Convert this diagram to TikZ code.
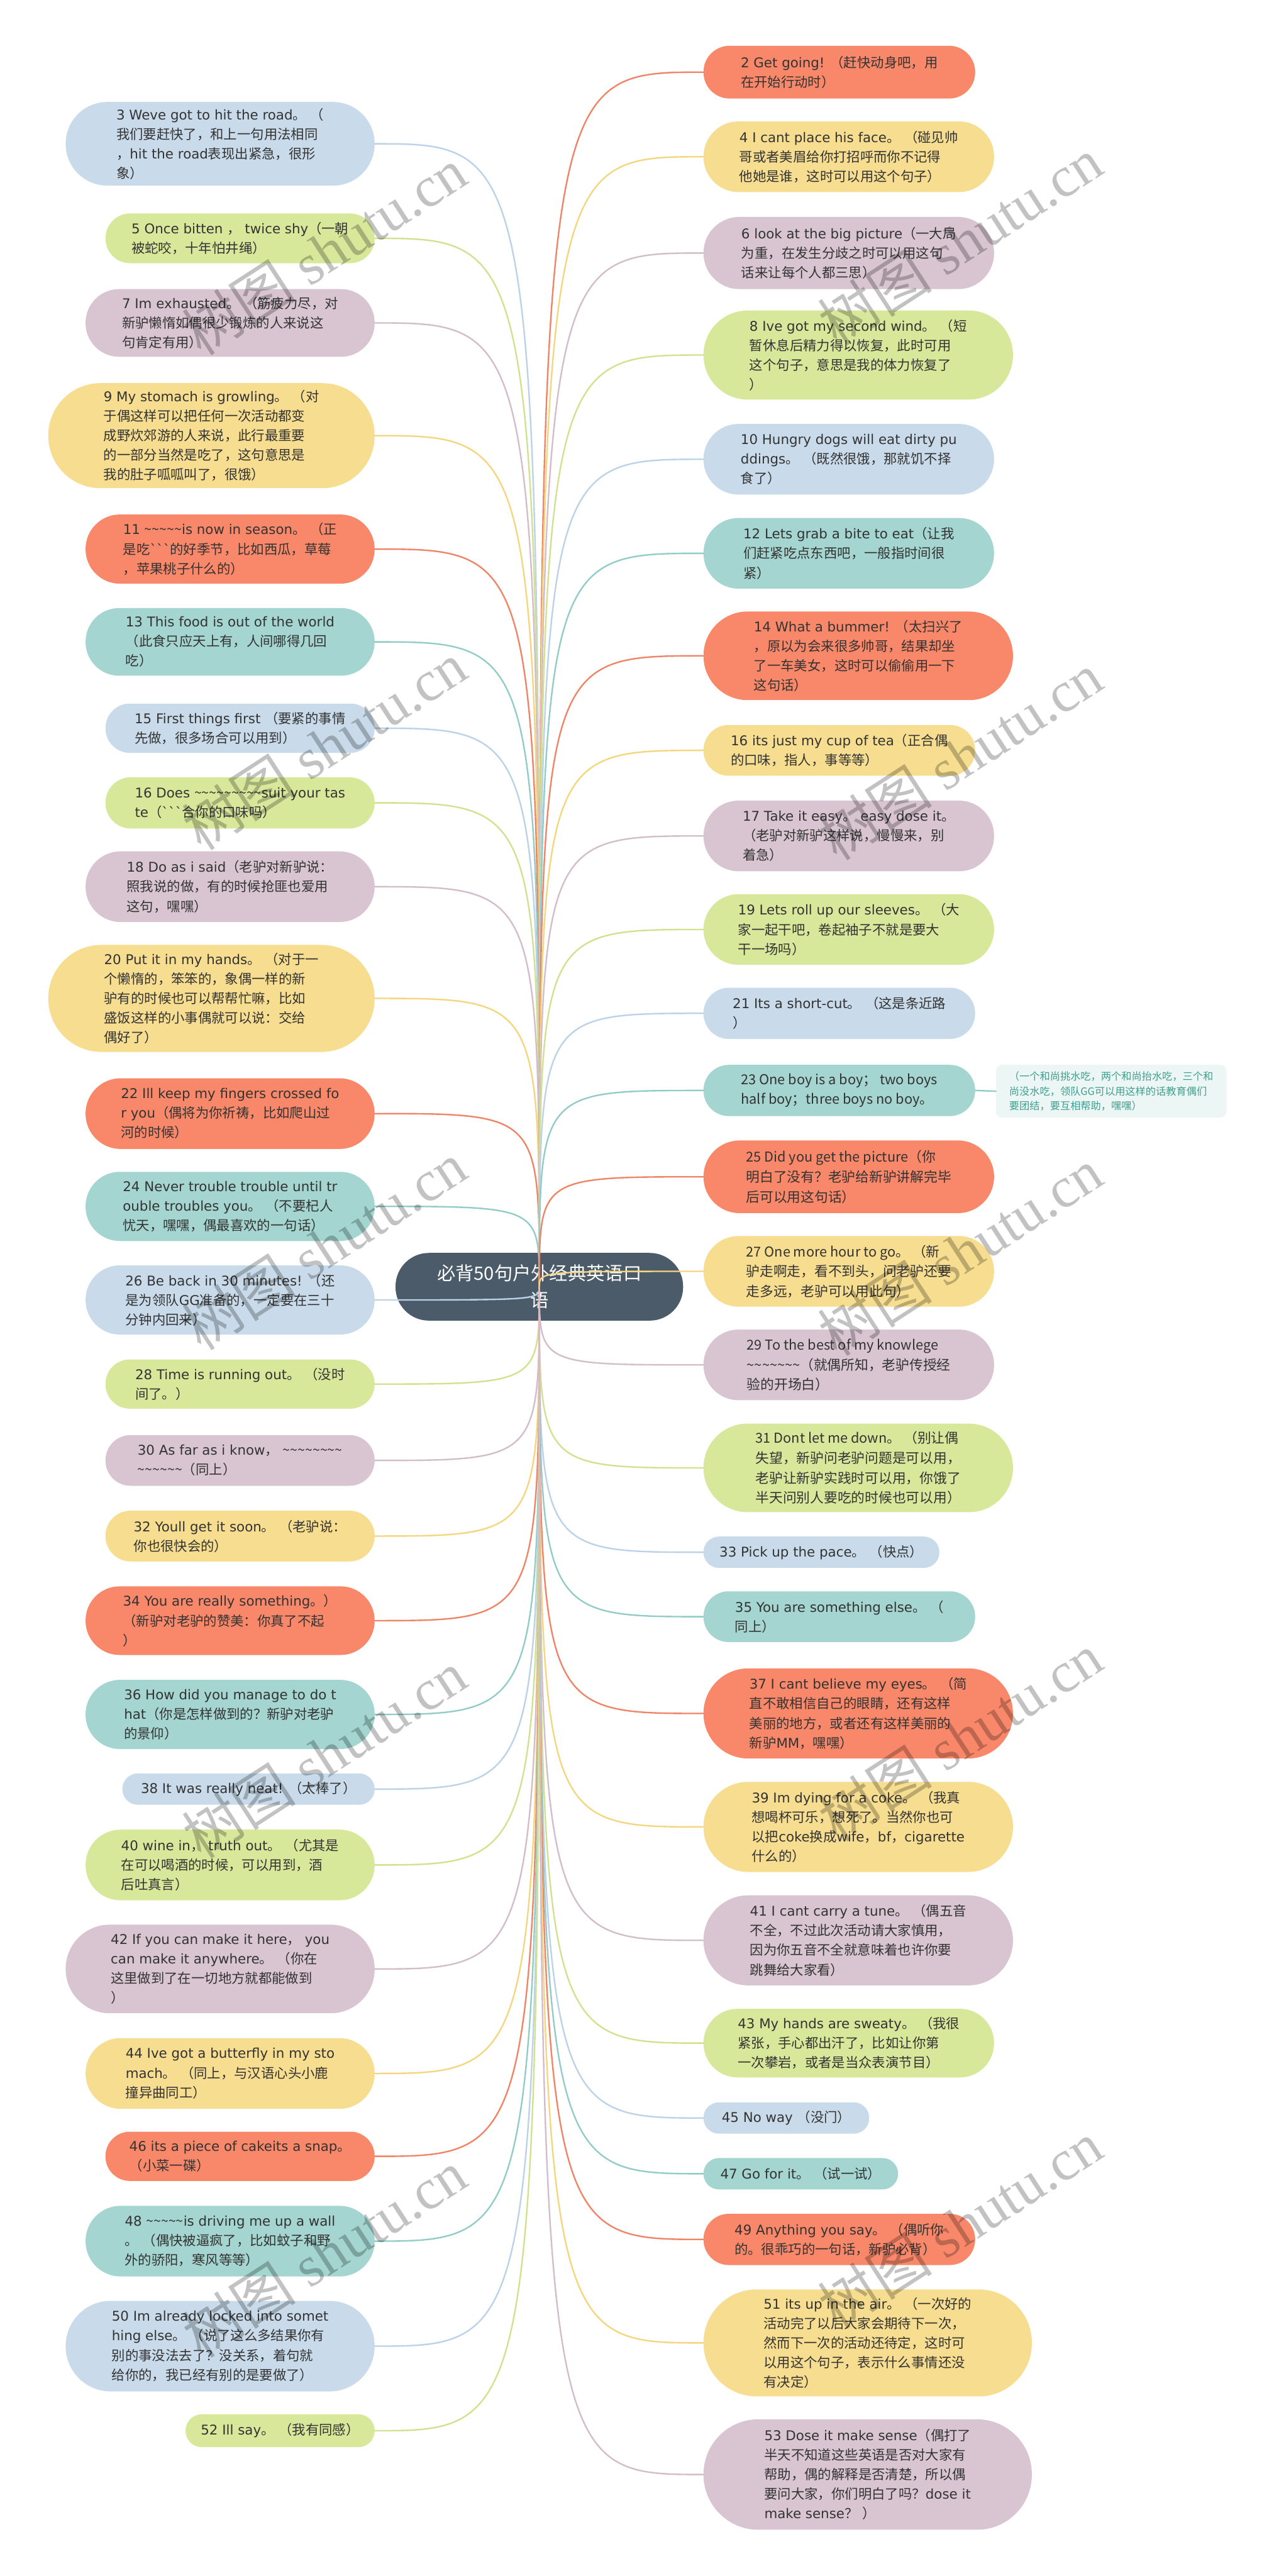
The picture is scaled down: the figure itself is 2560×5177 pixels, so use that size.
\documentclass[tikz,border=0pt]{standalone}
\usepackage{fontspec}
\setmainfont{DejaVu Sans}
\newfontfamily\latf{DejaVu Sans}
\newfontfamily\cjkf{Noto Sans CJK SC}
\newfontfamily\wmserif{Liberation Serif}
\XeTeXinterchartokenstate=1
\chardef\CJKcls=17
\newcount\ccnt
\newcommand\setcls[2]{\ccnt=#1\relax\loop\XeTeXcharclass\ccnt=\CJKcls\relax\ifnum\ccnt<#2\relax\advance\ccnt by 1\relax\repeat}
\setcls{"3000}{"303F}
\setcls{"4E00}{"9FFF}
\setcls{"FF00}{"FFEF}
\XeTeXinterchartoks 0 \CJKcls = {\cjkf}
\XeTeXinterchartoks 4095 \CJKcls = {\cjkf}
\XeTeXinterchartoks \CJKcls 0 = {\latf}
\XeTeXinterchartoks \CJKcls 4095 = {\latf}
\newcount\wc
\newcommand\W[1]{{\cjkf\wc=#1\relax\loop\ifnum\wc>0 \char126\relax\advance\wc by -1\relax\repeat}}
\definecolor{cor}{HTML}{F9886A}
\definecolor{cye}{HTML}{F7DD8F}
\definecolor{cma}{HTML}{D8C5D1}
\definecolor{cgr}{HTML}{D8E89B}
\definecolor{cbl}{HTML}{C9DBEB}
\definecolor{cte}{HTML}{A4D5D0}
\definecolor{lor}{HTML}{F08466}
\definecolor{lye}{HTML}{F3D67E}
\definecolor{lma}{HTML}{D3BDCB}
\definecolor{lgr}{HTML}{D0E28E}
\definecolor{lbl}{HTML}{BCD2E8}
\definecolor{lte}{HTML}{92CCC6}
\definecolor{txt}{HTML}{333333}
\definecolor{ctrfill}{HTML}{4B5B6A}
\definecolor{notefill}{HTML}{ECF6F4}
\definecolor{notetxt}{HTML}{3F9E90}
\tikzset{
  bub/.style={rectangle, inner sep=0pt, align=left, text=txt,
    font=\fontsize{27}{39.3}\selectfont\latf},
  narrow/.style={font=\fontsize{27.5}{39.9}\selectfont\let\latf\cjkf\cjkf},
  ln/.style={line width=3pt, line cap=round},
  ctrnode/.style={rectangle, fill=ctrfill, text=white, align=center, inner sep=0pt,
    minimum width=578pt, minimum height=136pt, rounded corners=67pt,
    font=\fontsize{37}{54}\selectfont\let\latf\cjkf\cjkf},
  notebox/.style={rectangle, fill=notefill, text=notetxt, align=left, inner sep=0pt,
    minimum width=463pt, minimum height=106pt, rounded corners=12pt,
    font=\fontsize{20.5}{30}\selectfont\let\latf\cjkf\cjkf},
  wm/.style={text=black, text opacity=0.24, inner sep=0pt,
    font=\fontsize{115}{115}\selectfont\let\latf\wmserif\cjkf}
}
\newcommand\bubL[8][]{%
  \pgfmathsetmacro\rr{(#6-#4)/2-0.5}%
  \pgfmathsetmacro\ww{#5-#3}%
  \pgfmathsetmacro\hh{#6-#4}%
  \node[bub,fill=c#7,minimum width=\ww pt,minimum height=\hh pt,rounded corners=\rr pt,#1] (#2) at ({(#3+#5)/2},{(#4+#6)/2}) {#8};
  \draw[ln,draw=l#7] (ctr.center) .. controls (ctr.center |- #2.east) .. (#2.east);}
\newcommand\bubR[8][]{%
  \pgfmathsetmacro\rr{(#6-#4)/2-0.5}%
  \pgfmathsetmacro\ww{#5-#3}%
  \pgfmathsetmacro\hh{#6-#4}%
  \node[bub,fill=c#7,minimum width=\ww pt,minimum height=\hh pt,rounded corners=\rr pt,#1] (#2) at ({(#3+#5)/2},{(#4+#6)/2}) {#8};
  \draw[ln,draw=l#7] (ctr.center) .. controls (ctr.center |- #2.west) .. (#2.west);}
\begin{document}
\begin{tikzpicture}[x=1pt,y=-1pt]
\fill[white] (0,0) rectangle (2560,5177);
\useasboundingbox (0,0) rectangle (2560,5177);
\node[ctrnode] (ctr) at (1084,2586) {必背50句户外经典英语口\\语};
% ---------- left ----------
\bubL{n3}{132}{205}{753}{373}{bl}{3 Weve got to hit the road。 （\\我们要赶快了，和上一句用法相同\\，hit the road表现出紧急，很形\\象）}
\bubL{n5}{212}{429}{753}{529}{gr}{5 Once bitten ， twice shy（一朝\\被蛇咬，十年怕井绳）}
\bubL{n7}{172}{581}{753}{717}{ma}{7 Im exhausted。 （筋疲力尽，对\\新驴懒惰如偶很少锻炼的人来说这\\句肯定有用）}
\bubL{n9}{97}{770}{753}{981}{ye}{9 My stomach is growling。 （对\\于偶这样可以把任何一次活动都变\\成野炊郊游的人来说，此行最重要\\的一部分当然是吃了，这句意思是\\我的肚子呱呱叫了，很饿）}
\bubL{n11}{172}{1034}{753}{1173}{or}{11 \W{5}is now in season。 （正\\是吃```的好季节，比如西瓜，草莓\\，苹果桃子什么的）}
\bubL{n13}{172}{1222}{753}{1358}{te}{13 This food is out of the world\\（此食只应天上有，人间哪得几回\\吃）}
\bubL{n15}{212}{1414}{753}{1513}{bl}{15 First things first （要紧的事情\\先做，很多场合可以用到）}
\bubL{n16}{212}{1562}{753}{1665}{gr}{16 Does \W{9}suit your tas\\te（```合你的口味吗）}
\bubL{n18}{172}{1711}{753}{1853}{ma}{18 Do as i said（老驴对新驴说：\\照我说的做，有的时候抢匪也爱用\\这句，嘿嘿）}
\bubL{n20}{97}{1899}{753}{2114}{ye}{20 Put it in my hands。 （对于一\\个懒惰的，笨笨的，象偶一样的新\\驴有的时候也可以帮帮忙嘛，比如\\盛饭这样的小事偶就可以说：交给\\偶好了）}
\bubL{n22}{172}{2167}{753}{2309}{or}{22 Ill keep my fingers crossed fo\\r you（偶将为你祈祷，比如爬山过\\河的时候）}
\bubL{n24}{172}{2355}{753}{2494}{te}{24 Never trouble trouble until tr\\ouble troubles you。 （不要杞人\\忧天，嘿嘿，偶最喜欢的一句话）}
\bubL{n26}{172}{2543}{753}{2682}{bl}{26 Be back in 30 minutes! （还\\是为领队GG准备的，一定要在三十\\分钟内回来）}
\bubL{n28}{212}{2732}{753}{2831}{gr}{28 Time is running out。 （没时\\间了。）}
\bubL{n30}{212}{2884}{753}{2986}{ma}{30 As far as i know， \W{8}\\\W{6}（同上）}
\bubL{n32}{212}{3036}{753}{3138}{ye}{32 Youll get it soon。 （老驴说：\\你也很快会的）}
\bubL{n34}{172}{3188}{753}{3326}{or}{34 You are really something。）\\（新驴对老驴的赞美：你真了不起\\）}
\bubL{n36}{172}{3376}{753}{3515}{te}{36 How did you manage to do t\\hat（你是怎样做到的？新驴对老驴\\的景仰）}
\bubL{n38}{246}{3564}{753}{3627}{bl}{38 It was really neat! （太棒了）}
\bubL{n40}{172}{3677}{753}{3819}{gr}{40 wine in， truth out。 （尤其是\\在可以喝酒的时候，可以用到，酒\\后吐真言）}
\bubL{n42}{132}{3868}{753}{4046}{ma}{42 If you can make it here， you\\can make it anywhere。 （你在\\这里做到了在一切地方就都能做到\\）}
\bubL{n44}{172}{4096}{753}{4238}{ye}{44 Ive got a butterfly in my sto\\mach。 （同上，与汉语心头小鹿\\撞异曲同工）}
\bubL{n46}{212}{4284}{753}{4383}{or}{46 its a piece of cakeits a snap。\\（小菜一碟）}
\bubL{n48}{172}{4433}{753}{4575}{te}{48 \W{5}is driving me up a wall\\。 （偶快被逼疯了，比如蚊子和野\\外的骄阳，寒风等等）}
\bubL{n50}{132}{4624}{753}{4806}{bl}{50 Im already locked into somet\\hing else。 （说了这么多结果你有\\别的事没法去了？没关系，着句就\\给你的，我已经有别的是要做了）}
\bubL{n52}{373}{4852}{753}{4918}{gr}{52 Ill say。 （我有同感）}
% ---------- right ----------
\bubR{r2}{1414}{92}{1960}{198}{or}{2 Get going! （赶快动身吧，用\\在开始行动时）}
\bubR{r4}{1414}{244}{1998}{386}{ye}{4 I cant place his face。 （碰见帅\\哥或者美眉给你打招呼而你不记得\\他她是谁，这时可以用这个句子）}
\bubR{r6}{1414}{436}{1998}{581}{ma}{6 look at the big picture（一大局\\为重，在发生分歧之时可以用这句\\话来让每个人都三思）}
\bubR{r8}{1414}{624}{2036}{803}{gr}{8 Ive got my second wind。 （短\\暂休息后精力得以恢复，此时可用\\这个句子，意思是我的体力恢复了\\）}
\bubR{r10}{1414}{852}{1998}{994}{bl}{10 Hungry dogs will eat dirty pu\\ddings。 （既然很饿，那就饥不择\\食了）}
\bubR{r12}{1414}{1041}{1998}{1183}{te}{12 Lets grab a bite to eat（让我\\们赶紧吃点东西吧，一般指时间很\\紧）}
\bubR{r14}{1414}{1229}{2036}{1407}{or}{14 What a bummer! （太扫兴了\\，原以为会来很多帅哥，结果却坐\\了一车美女，这时可以偷偷用一下\\这句话）}
\bubR{r16}{1414}{1457}{1960}{1559}{ye}{16 its just my cup of tea（正合偶\\的口味，指人，事等等）}
\bubR{r17}{1414}{1609}{1998}{1751}{ma}{17 Take it easy。 easy dose it。\\（老驴对新驴这样说，慢慢来，别\\着急）}
\bubR{r19}{1414}{1797}{1998}{1939}{gr}{19 Lets roll up our sleeves。 （大\\家一起干吧，卷起袖子不就是要大\\干一场吗）}
\bubR{r21}{1414}{1985}{1960}{2088}{bl}{21 Its a short-cut。 （这是条近路\\）}
\bubR[narrow]{r23}{1414}{2140}{1960}{2243}{te}{23 One boy is a boy； two boys\\half boy；three boys no boy。}
\node[notebox] (note) at (2233.5,2193) {（一个和尚挑水吃，两个和尚抬水吃，三个和\\尚没水吃，领队GG可以用这样的话教育偶们\\要团结，要互相帮助，嘿嘿）};
\draw[ln,draw=lte] (r23.east) -- (note.west);
\bubR[narrow]{r25}{1414}{2292}{1998}{2438}{or}{25 Did you get the picture（你\\明白了没有？老驴给新驴讲解完毕\\后可以用这句话）}
\bubR[narrow]{r27}{1414}{2484}{1998}{2626}{ye}{27 One more hour to go。 （新\\驴走啊走，看不到头，问老驴还要\\走多远，老驴可以用此句）}
\bubR[narrow]{r29}{1414}{2672}{1998}{2814}{ma}{29 To the best of my knowlege\\\W{7}（就偶所知，老驴传授经\\验的开场白）}
\bubR[narrow]{r31}{1414}{2861}{2036}{3039}{gr}{31 Dont let me down。 （别让偶\\失望，新驴问老驴问题是可以用，\\老驴让新驴实践时可以用，你饿了\\半天问别人要吃的时候也可以用）}
\bubR{r33}{1414}{3088}{1888}{3151}{bl}{33 Pick up the pace。 （快点）}
\bubR{r35}{1414}{3198}{1960}{3300}{te}{35 You are something else。 （\\同上）}
\bubR{r37}{1414}{3353}{2036}{3534}{or}{37 I cant believe my eyes。 （简\\直不敢相信自己的眼睛，还有这样\\美丽的地方，或者还有这样美丽的\\新驴MM，嘿嘿）}
\bubR{r39}{1414}{3581}{2036}{3762}{ye}{39 Im dying for a coke。 （我真\\想喝杯可乐，想死了。当然你也可\\以把coke换成wife，bf，cigarette\\什么的）}
\bubR{r41}{1414}{3809}{2036}{3990}{ma}{41 I cant carry a tune。 （偶五音\\不全，不过此次活动请大家慎用，\\因为你五音不全就意味着也许你要\\跳舞给大家看）}
\bubR{r43}{1414}{4037}{1998}{4175}{gr}{43 My hands are sweaty。 （我很\\紧张，手心都出汗了，比如让你第\\一次攀岩，或者是当众表演节目）}
\bubR{r45}{1414}{4225}{1747}{4288}{bl}{45 No way （没门）}
\bubR{r47}{1414}{4337}{1805}{4400}{te}{47 Go for it。 （试一试）}
\bubR{r49}{1414}{4449}{1960}{4552}{or}{49 Anything you say。 （偶听你\\的。很乖巧的一句话，新驴必背）}
\bubR{r51}{1414}{4601}{2074}{4816}{ye}{51 its up in the air。 （一次好的\\活动完了以后大家会期待下一次，\\然而下一次的活动还待定，这时可\\以用这个句子，表示什么事情还没\\有决定）}
\bubR{r53}{1414}{4862}{2074}{5084}{ma}{53 Dose it make sense（偶打了\\半天不知道这些英语是否对大家有\\帮助，偶的解释是否清楚，所以偶\\要问大家，你们明白了吗？dose it\\make sense？ ）}
% ---------- watermarks ----------
\node[wm,rotate=33] (wm1) at (652,505) {树图 shutu.cn};
\node[wm,rotate=33] (wm2) at (652,1499) {树图 shutu.cn};
\node[wm,rotate=33] (wm3) at (652,2504) {树图 shutu.cn};
\node[wm,rotate=33] (wm4) at (652,3526) {树图 shutu.cn};
\node[wm,rotate=33] (wm5) at (652,4529) {树图 shutu.cn};
\node[wm,rotate=33] (wm6) at (1930,485) {树图 shutu.cn};
\node[wm,rotate=33] (wm7) at (1930,1520) {树图 shutu.cn};
\node[wm,rotate=33] (wm8) at (1930,2516) {树图 shutu.cn};
\node[wm,rotate=33] (wm9) at (1930,3491) {树图 shutu.cn};
\node[wm,rotate=33] (wm10) at (1930,4471) {树图 shutu.cn};
\end{tikzpicture}
\end{document}
